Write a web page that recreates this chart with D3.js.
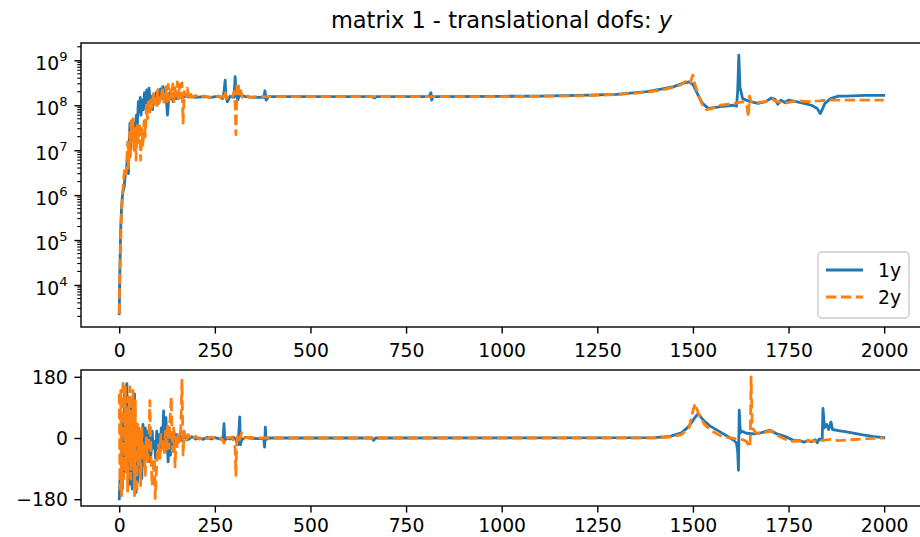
<!DOCTYPE html>
<html><head><meta charset="utf-8">
<script src="https://cdn.jsdelivr.net/npm/d3@7/dist/d3.min.js"></script>
<style>body{margin:0;background:#fff}svg{display:block}text{font-family:"DejaVu Sans",sans-serif;fill:#000}</style>
</head><body><svg id="c" width="920" height="537"></svg>
<script>
const title = "matrix 1 - translational dofs: ";
const seriesNames = ["1y", "2y"];
const xTicks = [0, 250, 500, 750, 1000, 1250, 1500, 1750, 2000];
const magTickExps = [4, 5, 6, 7, 8, 9];
const phaseTicks = [-180, 0, 180];

// magnitude, series 1y
const mag1y = [[0,2.3e3],[2,3e4],[4,2e5],[6,5e5],[8,9e5],[10,1.2e6],[13,1.5e6],[16,3e6],[19,4e6],[22,8e6],[24,3e6],[26,1.5e7],[28,4e7],[30,1e7],[32,4.5e7],[35,2e7],[37,4e7],[40,1.2e7],[42,3.5e7],[45,6e7],[47,3e7],[50,1.2e8],[52,7e7],[55,1.5e8],[57,6e7],[60,1.3e8],[63,8e7],[66,1.9e8],[69,9e7],[72,2.2e8],[75,1e8],[78,2.4e8],[81,1.1e8],[84,1.6e8],[87,8e7],[90,1.4e8],[93,1.1e8],[96,1.9e8],[99,1e8],[102,2.2e8],[105,1.2e8],[108,2.3e8],[111,1.4e8],[114,2.6e8],[117,1.3e8],[120,2.4e8],[123,1.5e8],[126,6e7],[129,1.2e8],[132,1.9e8],[135,1.4e8],[138,1.8e8],[141,1.2e8],[145,1.5e8],[150,1.4e8],[155,1.6e8],[160,1.5e8],[170,1.55e8],[180,1.6e8],[200,1.5e8],[220,1.55e8],[240,1.5e8],[260,1.6e8],[270,1.4e8],[274,2e8],[277,3.6e8],[279,1.5e8],[283,1.2e8],[290,1.6e8],[300,1.5e8],[303,4.3e8],[306,1.8e8],[310,1.3e8],[315,1.7e8],[330,1.55e8],[350,1.5e8],[378,1.5e8],[381,2.1e8],[384,1.3e8],[390,1.55e8],[500,1.55e8],[660,1.55e8],[668,1.45e8],[672,1.55e8],[810,1.55e8],[815,1.9e8],[817,1.3e8],[820,1.55e8],[1000,1.58e8],[1100,1.6e8],[1200,1.65e8],[1300,1.75e8],[1380,2e8],[1420,2.3e8],[1450,2.6e8],[1475,3.1e8],[1490,3.3e8],[1500,2.9e8],[1512,1.8e8],[1525,1.1e8],[1540,8.5e7],[1560,9e7],[1580,9.5e7],[1605,1e8],[1614,9.5e7],[1617,2e8],[1620,1.3e9],[1623,2.5e8],[1630,1.4e8],[1650,1.2e8],[1670,1.1e8],[1690,1.2e8],[1705,1.45e8],[1715,1.35e8],[1722,1.05e8],[1730,1.3e8],[1740,1.15e8],[1750,1.3e8],[1770,1.2e8],[1790,1.1e8],[1810,1e8],[1825,8.5e7],[1833,6.5e7],[1838,8e7],[1845,1.1e8],[1860,1.4e8],[1870,1.5e8],[1880,1.6e8],[1900,1.6e8],[1950,1.65e8],[1999,1.65e8]];

// magnitude, series 2y
const mag2y = [[0,2.3e3],[2,2e4],[4,1.2e5],[6,4e5],[8,8e5],[10,1.5e6],[12,2.5e6],[15,4e6],[18,3e6],[20,6e6],[22,1.5e7],[24,4e6],[27,2.5e7],[29,7e6],[31,4.5e7],[34,1.5e7],[36,5e7],[39,1e7],[41,3e7],[44,6e6],[47,3.5e7],[50,1.5e7],[53,4e7],[56,6e6],[59,3e7],[62,1.2e7],[65,4.5e7],[68,2e7],[71,1e8],[74,5e7],[77,1.2e8],[80,7e7],[83,1.3e8],[86,9e7],[89,1.8e8],[92,1.1e8],[95,1.7e8],[98,1e8],[101,2.2e8],[104,1.1e8],[107,1.6e8],[110,1.4e8],[113,2.5e8],[116,1.1e8],[119,1.7e8],[122,2.6e8],[125,1.2e8],[128,2.9e8],[131,1.3e8],[134,2.2e8],[137,1.5e8],[140,3e8],[143,1.2e8],[146,2.7e8],[149,1.6e8],[152,3.3e8],[155,1.4e8],[158,2.9e8],[161,1.5e8],[164,3.2e8],[167,4e7],[170,2e8],[174,1.6e8],[178,2.4e8],[182,1.5e8],[186,1.9e8],[190,1.5e8],[200,1.65e8],[210,1.5e8],[220,1.6e8],[240,1.5e8],[260,1.6e8],[272,1.5e8],[276,2.1e8],[280,1.4e8],[290,1.8e8],[297,1.6e8],[300,2e8],[303,1.1e8],[305,2.2e7],[308,2.8e8],[311,3.2e8],[314,1.6e8],[318,2.1e8],[322,1.5e8],[330,1.75e8],[340,1.5e8],[360,1.55e8],[400,1.55e8],[1000,1.55e8],[1200,1.62e8],[1300,1.72e8],[1380,1.95e8],[1420,2.2e8],[1450,2.5e8],[1470,2.9e8],[1485,3.6e8],[1493,3.2e8],[1500,4.7e8],[1505,3e8],[1515,1.6e8],[1525,1e8],[1535,8e7],[1550,8.5e7],[1570,1e8],[1590,1.05e8],[1610,1.1e8],[1620,1.15e8],[1630,1.2e8],[1640,1.1e8],[1645,5.5e7],[1648,1.6e8],[1652,1.2e8],[1670,1.15e8],[1690,1.2e8],[1705,1.4e8],[1720,1.2e8],[1740,1.1e8],[1760,1.2e8],[1780,1.25e8],[1800,1.2e8],[1830,1.25e8],[1850,1.3e8],[1870,1.3e8],[1900,1.3e8],[1950,1.3e8],[1999,1.3e8]];

// phase (degrees), series 1y
const phase1y = [[0,-179],[2,-120],[4,-170],[6,-60],[8,-150],[10,60],[12,-100],[14,140],[16,-40],[18,150],[20,160],[22,-30],[24,-140],[26,20],[28,-134],[30,90],[32,-120],[34,-150],[36,40],[38,-90],[40,130],[42,-60],[44,-160],[46,-20],[48,-130],[50,30],[53,-100],[56,10],[59,-120],[62,40],[65,-80],[68,30],[71,-40],[74,20],[77,-70],[80,10],[83,-50],[86,20],[89,-30],[92,-10],[95,-60],[98,20],[101,-30],[104,10],[107,-40],[110,30],[113,-20],[116,80],[119,-30],[122,60],[125,-10],[128,-70],[131,30],[134,-50],[137,10],[140,-40],[143,20],[146,-20],[150,10],[155,-10],[160,5],[165,-8],[170,6],[180,-5],[190,4],[200,-3],[210,0],[220,-4],[230,2],[240,-3],[250,1],[260,-2],[268,-4],[272,5],[274,42],[276,-8],[280,0],[290,-3],[300,2],[305,-5],[310,-20],[313,20],[315,62],[317,-20],[320,-5],[330,2],[340,0],[360,-2],[378,-2],[380,-27],[382,32],[384,-5],[390,0],[660,0],[665,-7],[670,0],[1400,1],[1440,5],[1470,15],[1490,35],[1505,60],[1514,72],[1525,55],[1545,35],[1571,18],[1590,5],[1607,-7],[1614,-15],[1617,-40],[1619,-95],[1621,82],[1624,15],[1628,20],[1640,14],[1660,12],[1680,16],[1702,23],[1720,12],[1740,5],[1763,-7],[1780,-8],[1790,-12],[1800,-8],[1810,-11],[1820,-5],[1825,-14],[1830,-3],[1838,-5],[1840,87],[1844,30],[1850,40],[1855,25],[1861,47],[1865,25],[1880,22],[1902,18],[1940,10],[1970,5],[1999,1]];

// phase (degrees), series 2y
const phase2y = [[0,130],[2,-150],[4,140],[6,-170],[8,100],[10,170],[12,-120],[14,-40],[16,150],[18,-100],[20,60],[22,-160],[24,120],[26,-60],[28,150],[30,-120],[32,80],[34,-90],[36,140],[38,-50],[40,-170],[42,110],[44,-120],[46,-163],[48,40],[50,-80],[53,20],[56,-140],[59,30],[62,-60],[65,-20],[68,-110],[71,0],[74,-70],[77,-20],[80,110],[83,-50],[86,-140],[89,-90],[92,-60],[94,-178],[97,-100],[100,-40],[103,-20],[106,-60],[109,10],[112,-30],[115,-10],[118,-50],[121,20],[124,-40],[127,40],[130,-30],[133,60],[136,120],[139,-40],[142,30],[146,-85],[149,10],[152,-30],[155,20],[158,-10],[161,30],[164,170],[167,-50],[170,20],[175,-10],[180,10],[190,-5],[200,5],[210,-3],[220,4],[230,-2],[240,3],[250,0],[260,3],[270,-5],[274,-15],[278,4],[285,0],[295,3],[300,-10],[303,-30],[305,-110],[307,-20],[310,10],[315,-5],[320,15],[325,0],[340,2],[360,0],[1400,0],[1440,3],[1470,10],[1490,30],[1500,80],[1506,101],[1515,70],[1530,40],[1550,20],[1570,8],[1590,2],[1610,-2],[1630,-5],[1640,-10],[1648,-27],[1650,-5],[1652,180],[1655,30],[1665,15],[1680,12],[1702,22],[1720,8],[1740,-3],[1760,-10],[1780,-9],[1800,-8],[1820,-9],[1840,-7],[1860,-4],[1880,-8],[1900,-6],[1940,-3],[1970,-1],[1999,0]];

const colors = ["#1f77b4", "#ff7f0e"];
const FS = 18.75, LW = 2.8;
const svg = d3.select("#c");
const L = 81, R = 922;
const top1 = 43, bot1 = 327, top2 = 370, bot2 = 506;

const x = d3.scaleLinear().domain([-99.95, 2098.95]).range([L, R]);
const yMag = d3.scaleLog().domain([Math.pow(10, 3.065), Math.pow(10, 9.385)]).range([bot1, top1]);
const yPh = d3.scaleLinear().domain([-200, 200]).range([bot2, top2]);

const defs = svg.append("defs");
defs.append("clipPath").attr("id", "cp1").append("rect").attr("x", L).attr("y", top1).attr("width", R - L).attr("height", bot1 - top1);
defs.append("clipPath").attr("id", "cp2").append("rect").attr("x", L).attr("y", top2).attr("width", R - L).attr("height", bot2 - top2);

function drawLines(series, y, cp) {
  const g = svg.append("g").attr("clip-path", `url(#${cp})`);
  const line = d3.line().x(d => x(d[0])).y(d => y(d[1]));
  series.forEach((s, i) => {
    g.append("path").datum(s).attr("d", line).attr("fill", "none")
      .attr("stroke", colors[i]).attr("stroke-width", LW)
      .attr("stroke-linejoin", "round")
      .attr("stroke-linecap", i === 0 ? "square" : "butt")
      .attr("stroke-dasharray", i === 1 ? "10.4,4.5" : null);
  });
}
drawLines([mag1y, mag2y], yMag, "cp1");
drawLines([phase1y, phase2y], yPh, "cp2");

function xAxis(yPos, dy) {
  const g = svg.append("g").attr("transform", `translate(0,${yPos})`)
    .call(d3.axisBottom(x).tickValues(xTicks).tickSize(6.6).tickSizeOuter(0).tickPadding(6.6).tickFormat(d3.format("d")));
  g.select(".domain").remove();
  g.selectAll(".tick line").attr("stroke", "#000").attr("stroke-width", 1.4);
  g.selectAll(".tick text").attr("font-size", FS).attr("dy", dy).attr("font-family", "DejaVu Sans");
}
xAxis(bot1, 16.9);
xAxis(bot2, 12.6);

// log y axis (top panel)
const gy1 = svg.append("g").attr("transform", `translate(${L},0)`)
  .call(d3.axisLeft(yMag).tickValues(magTickExps.map(e => Math.pow(10, e))).tickSize(6.6).tickSizeOuter(0).tickFormat(""));
gy1.select(".domain").remove();
gy1.selectAll(".tick line").attr("stroke", "#000").attr("stroke-width", 1.4);
const minor = [];
for (let e = 3; e <= 9; e++) for (let k = 2; k <= 9; k++) {
  const v = k * Math.pow(10, e);
  if (v >= yMag.domain()[0] && v <= yMag.domain()[1]) minor.push(v);
}
svg.append("g").selectAll("line").data(minor).join("line")
  .attr("x1", L).attr("x2", L - 3.75).attr("y1", d => yMag(d)).attr("y2", d => yMag(d))
  .attr("stroke", "#000").attr("stroke-width", 1.1);
magTickExps.forEach(e => {
  const yy = yMag(Math.pow(10, e));
  const t = svg.append("text").attr("x", L - 13.5).attr("y", yy + 9.6).attr("text-anchor", "end").attr("font-size", FS);
  t.append("tspan").text("10");
  t.append("tspan").attr("font-size", FS * 0.7).attr("dy", -8.6).text(String(e));
});

// phase y axis
const gy2 = svg.append("g").attr("transform", `translate(${L},0)`)
  .call(d3.axisLeft(yPh).tickValues(phaseTicks).tickSize(6.6).tickSizeOuter(0).tickPadding(6.6)
    .tickFormat(d => d < 0 ? "\u2212" + Math.abs(d) : String(d)));
gy2.select(".domain").remove();
gy2.selectAll(".tick line").attr("stroke", "#000").attr("stroke-width", 1.4);
gy2.selectAll(".tick text").attr("font-size", FS).attr("dy", "0.36em").attr("font-family", "DejaVu Sans");

// spines
[[top1, bot1], [top2, bot2]].forEach(([t, b]) => {
  svg.append("rect").attr("x", L).attr("y", t).attr("width", R - L).attr("height", b - t)
    .attr("fill", "none").attr("stroke", "#000").attr("stroke-width", 1.4);
});

// title
const tt = svg.append("text").attr("x", (L + R) / 2).attr("y", 28).attr("text-anchor", "middle").attr("font-size", 22.5);
tt.append("tspan").text(title);
tt.append("tspan").attr("font-style", "italic").text("y");

// legend
const lg = svg.append("g");
lg.append("rect").attr("x", 818).attr("y", 252).attr("width", 91).attr("height", 66).attr("rx", 4)
  .attr("fill", "#fff").attr("fill-opacity", 0.8).attr("stroke", "#cccccc").attr("stroke-width", 1.4);
seriesNames.forEach((n, i) => {
  const yy = 270 + i * 27;
  lg.append("line").attr("x1", 826).attr("x2", 863).attr("y1", yy).attr("y2", yy)
    .attr("stroke", colors[i]).attr("stroke-width", LW).attr("stroke-dasharray", i === 1 ? "10.4,4.5" : null);
  lg.append("text").attr("x", 878).attr("y", yy + 6.5).attr("font-size", FS).text(n);
});
</script></body></html>
